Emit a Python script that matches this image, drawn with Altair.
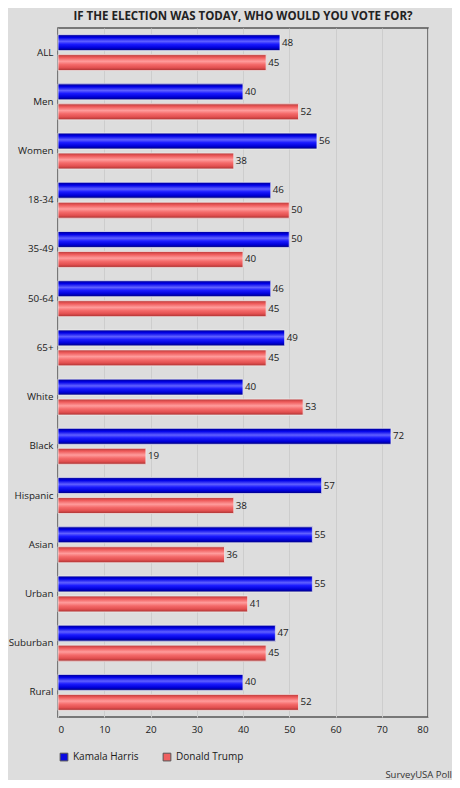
import altair as alt
import pandas as pd

groups = ["ALL", "Men", "Women", "18-34", "35-49", "50-64", "65+", "White",
          "Black", "Hispanic", "Asian", "Urban", "Suburban", "Rural"]
harris = [48, 40, 56, 46, 50, 46, 49, 40, 72, 57, 55, 55, 47, 40]
trump = [45, 52, 38, 50, 40, 45, 45, 53, 19, 38, 36, 41, 45, 52]
series = ["Kamala Harris", "Donald Trump"]
x_ticks = [0, 10, 20, 30, 40, 50, 60, 70, 80]
title_text = "IF THE ELECTION WAS TODAY, WHO WOULD YOU VOTE FOR?"
credit_text = "SurveyUSA Poll"

rows = []
for g, h, t in zip(groups, harris, trump):
    rows.append({"group": g, "series": series[0], "value": h})
    rows.append({"group": g, "series": series[1], "value": t})
df = pd.DataFrame(rows)

W, H = 370, 689
FONT = "Open Sans"

blue_grad = alt.Gradient(
    gradient="linear", x1=0, y1=0, x2=0, y2=1,
    stops=[
        alt.GradientStop(color="#000090", offset=0),
        alt.GradientStop(color="#0000e8", offset=0.18),
        alt.GradientStop(color="#6060ff", offset=0.42),
        alt.GradientStop(color="#1a1aff", offset=0.6),
        alt.GradientStop(color="#0000d8", offset=0.82),
        alt.GradientStop(color="#000078", offset=1),
    ],
)
red_grad = alt.Gradient(
    gradient="linear", x1=0, y1=0, x2=0, y2=1,
    stops=[
        alt.GradientStop(color="#b83a3a", offset=0),
        alt.GradientStop(color="#ee5a5a", offset=0.18),
        alt.GradientStop(color="#ff9c9c", offset=0.42),
        alt.GradientStop(color="#f46a6a", offset=0.62),
        alt.GradientStop(color="#e25050", offset=0.82),
        alt.GradientStop(color="#a83030", offset=1),
    ],
)

base = alt.Chart(df)

y_enc = alt.Y(
    "group:N", sort=groups,
    scale=alt.Scale(paddingInner=0.27, paddingOuter=0.135),
    axis=alt.Axis(title=None, ticks=False, labelPadding=5, labelFontSize=9.8,
                  labelColor="#1a1a1a", domain=False, labelFont=FONT),
)
yoff_enc = alt.YOffset("series:N", sort=series,
                       scale=alt.Scale(domain=series, paddingInner=0.2))
x_enc = alt.X(
    "value:Q",
    scale=alt.Scale(domain=[0, 80]),
    axis=alt.Axis(title=None, values=x_ticks, ticks=False, labelPadding=7,
                  labelFontSize=9.8, labelColor="#1a1a1a", domain=False,
                  gridColor="#cdcdcd", gridWidth=1, labelFont=FONT),
)

legend_bars = base.mark_bar().encode(
    x=x_enc, y=y_enc, yOffset=yoff_enc,
    color=alt.Color(
        "series:N",
        scale=alt.Scale(domain=series, range=["#0a0ae0", "#f06060"]),
        legend=alt.Legend(
            title=None, orient="none", direction="horizontal",
            legendX=1, legendY=H + 35, symbolType="square", symbolSize=60,
            symbolStrokeWidth=1, symbolStrokeColor="#555555",
            labelFontSize=10, labelColor="#1a1a1a",
            labelFont=FONT, columnPadding=22,
        ),
    ),
)

harris_bars = base.transform_filter(alt.datum.series == series[0]).mark_bar(
    color=blue_grad, stroke="#eeeeee", strokeWidth=0.8
).encode(x=x_enc, y=y_enc, yOffset=yoff_enc)

trump_bars = base.transform_filter(alt.datum.series == series[1]).mark_bar(
    color=red_grad, stroke="#eeeeee", strokeWidth=0.8
).encode(x=x_enc, y=y_enc, yOffset=yoff_enc)

labels = base.mark_text(
    align="left", baseline="middle", dx=2, fontSize=9.8, color="#1a1a1a", font=FONT
).encode(x=x_enc, y=y_enc, yOffset=yoff_enc, text=alt.Text("value:Q"))

credit = alt.Chart(alt.Data(values=[{"t": credit_text}])).mark_text(
    align="right", baseline="bottom", fontSize=9.5, color="#333333", font=FONT
).encode(text="t:N", x=alt.value(W + 24), y=alt.value(H + 63))

chart = alt.layer(legend_bars, harris_bars, trump_bars, labels, credit).properties(
    width=W, height=H,
    title=alt.TitleParams(title_text, fontSize=11.5, fontWeight="bold",
                          color="#222222", font=FONT, anchor="middle", offset=6),
    padding={"left": 0, "right": 0, "top": 2, "bottom": 0},
).configure(
    background="#dddddd",
).configure_view(
    stroke="#555555", strokeWidth=1.5, fill="#dddddd",
)

chart.save("out.html", embed_options={"renderer": "svg", "actions": False})
